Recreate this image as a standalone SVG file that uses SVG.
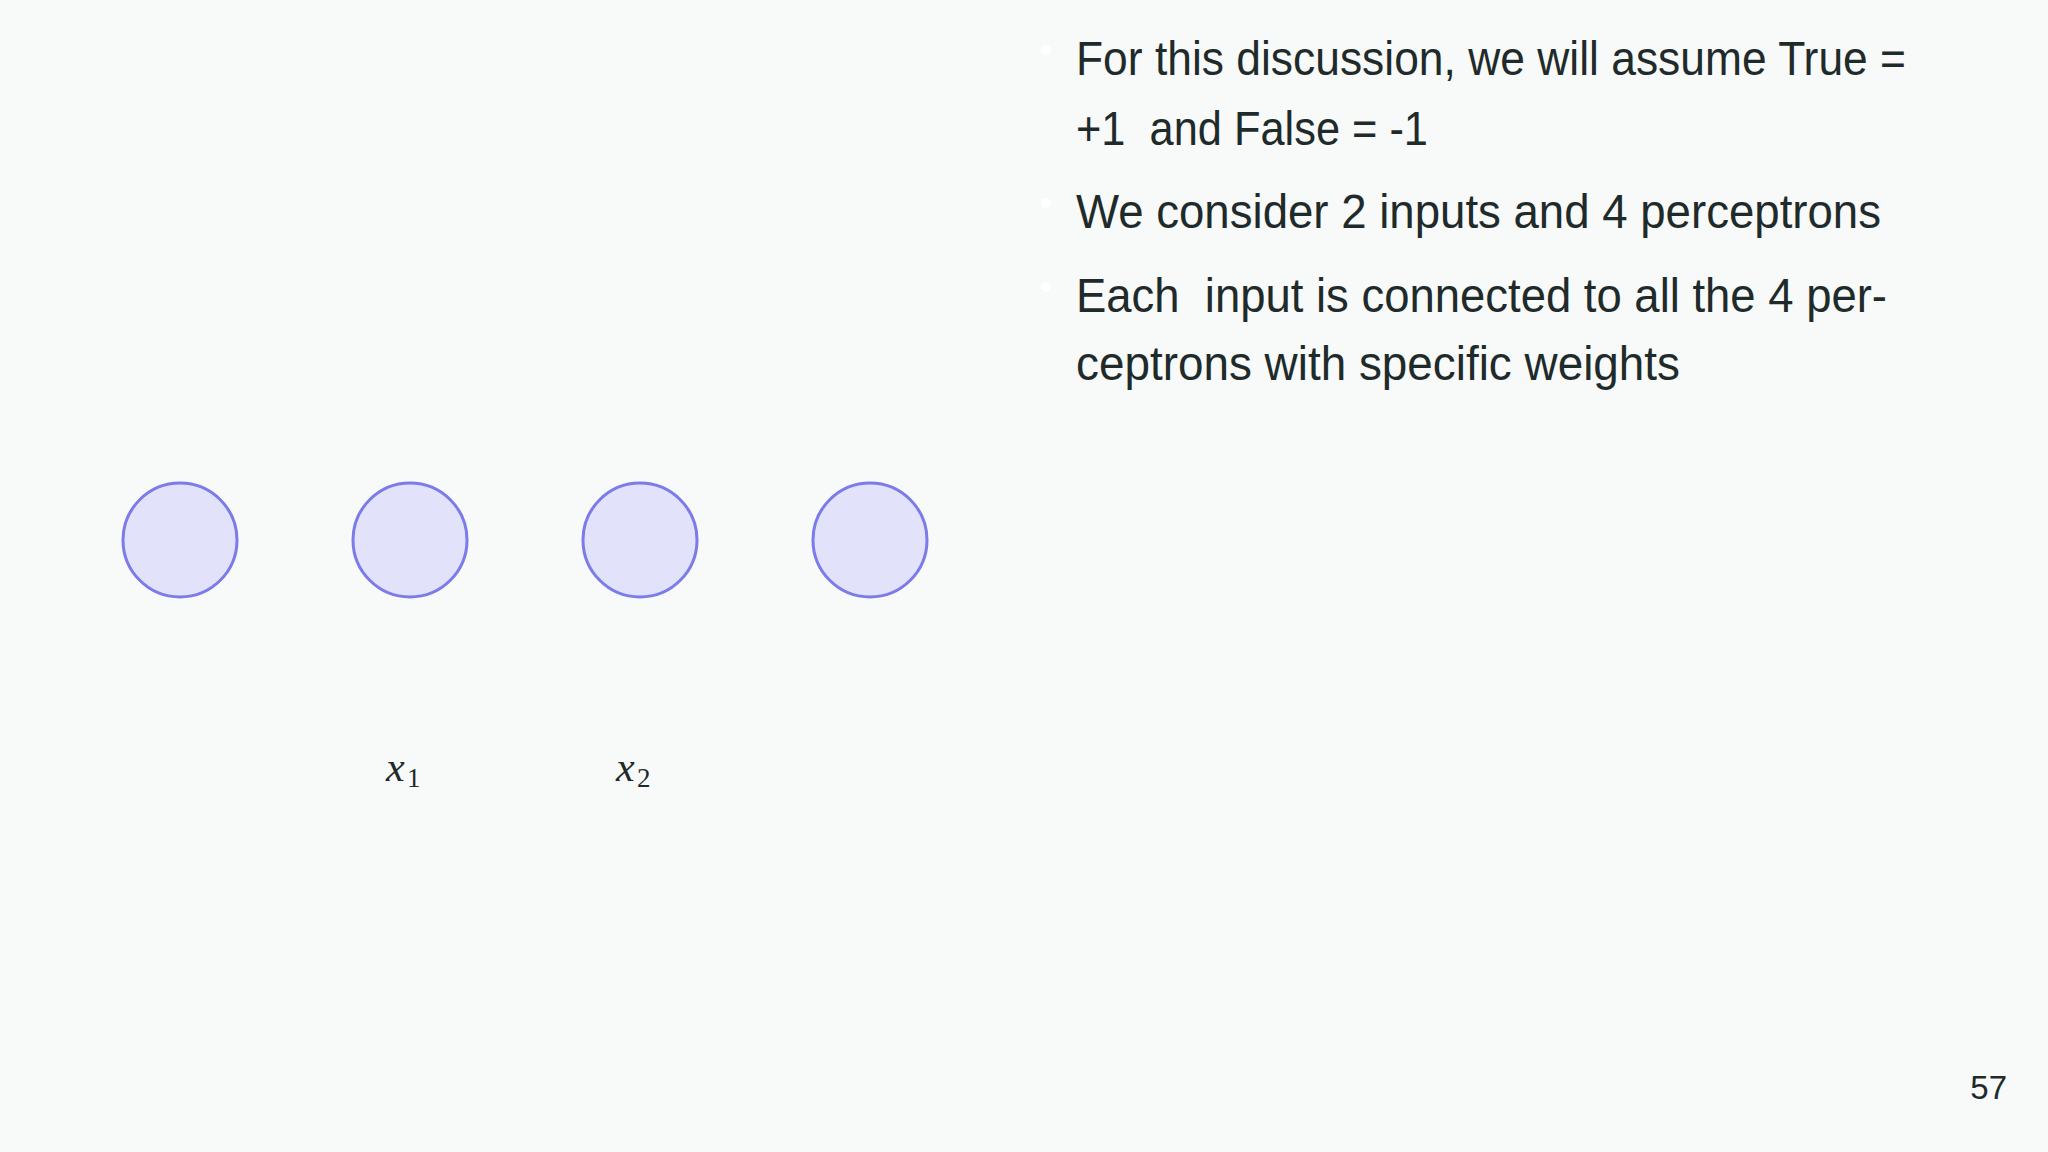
<svg xmlns="http://www.w3.org/2000/svg" width="2048" height="1152" viewBox="0 0 2048 1152">
<style>
.bg{fill:#f8f9f9}
.node{fill:#e2e3fb;stroke:#7b7be9;stroke-width:3}
.t{font-family:"Liberation Sans",Arial,sans-serif;font-size:49px;fill:#1f2b2a}
.bul{fill:#ffffff}
.m{font-family:"Liberation Serif","Times New Roman",serif;fill:#1f2b2a}
.pg{font-family:"Liberation Sans",Arial,sans-serif;font-size:33px;fill:#1f2b2a}
</style>
<rect class="bg" x="0" y="0" width="2048" height="1152"/>
<g id="connectors"></g>
<g id="node1"><circle class="node" cx="180" cy="540" r="57"/></g>
<g id="node2"><circle class="node" cx="410" cy="540" r="57"/></g>
<g id="node3"><circle class="node" cx="640" cy="540" r="57"/></g>
<g id="node4"><circle class="node" cx="870" cy="540" r="57"/></g>
<g id="label-x1"><text class="m" x="386" y="781" font-size="42" font-style="italic">x</text><text class="m" x="407" y="787" font-size="27">1</text></g>
<g id="label-x2"><text class="m" x="616" y="781" font-size="42" font-style="italic">x</text><text class="m" x="637" y="787" font-size="27">2</text></g>
<g id="bullets">
<circle class="bul" cx="1046" cy="50" r="5"/>
<circle class="bul" cx="1046" cy="203" r="5"/>
<circle class="bul" cx="1046" cy="287" r="5"/>
<text class="t" x="1076" y="75" textLength="830" lengthAdjust="spacingAndGlyphs">For this discussion, we will assume True =</text>
<text class="t" x="1076" y="145" textLength="352" lengthAdjust="spacingAndGlyphs" xml:space="preserve">+1  and False = -1</text>
<text class="t" x="1076" y="228" textLength="805" lengthAdjust="spacingAndGlyphs">We consider 2 inputs and 4 perceptrons</text>
<text class="t" x="1076" y="312" textLength="811" lengthAdjust="spacingAndGlyphs" xml:space="preserve">Each  input is connected to all the 4 per-</text>
<text class="t" x="1076" y="380" textLength="604" lengthAdjust="spacingAndGlyphs">ceptrons with specific weights</text>
</g>
<text class="pg" x="2007" y="1099" text-anchor="end">57</text>
</svg>
